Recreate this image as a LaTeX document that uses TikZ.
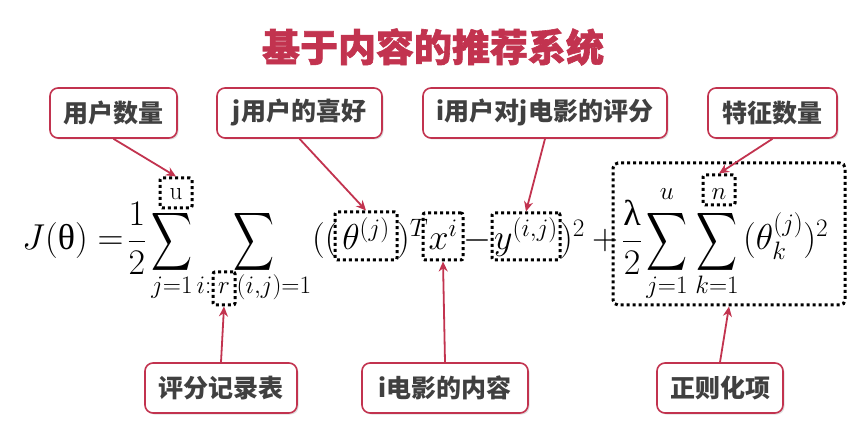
\documentclass[tikz,border=0pt]{standalone}
\usepackage{fix-cm}
\usepackage{fontspec}
\usepackage{amsmath}
\usepackage{graphicx}
\newfontfamily\cjk{Noto Sans CJK SC}
\newfontfamily\cjktitle[BoldFeatures={FakeBold=1.6}]{Noto Sans CJK SC}
\newfontfamily\greekup{Liberation Serif}
\usetikzlibrary{arrows.meta,shadows}
\definecolor{rosered}{HTML}{C2334F}
\definecolor{labelgray}{HTML}{404040}
\newcommand{\bigsum}{\resizebox*{41pt}{65pt}{$\displaystyle\sum$}}
\newcommand{\upth}{\text{\greekup θ}}
\newcommand{\uplam}{\text{\greekup λ}}
\tikzset{
  callout/.style={draw=rosered, line width=1.6pt, fill=white, rounded corners=8pt,
    minimum height=50pt, inner sep=0pt, text=labelgray,
    font=\cjk\bfseries\fontsize{25}{28}\selectfont,
    drop shadow={opacity=0.25, shadow xshift=1.5pt, shadow yshift=-1.5pt}},
  pointer/.style={draw=rosered, line width=1.8pt, -{Stealth[length=10pt,width=9pt]}},
  dotbox/.style={draw=black, line width=3pt, dash pattern=on 3pt off 3pt,
    rounded corners=2pt, inner sep=0pt},
  mathtext/.style={inner sep=0pt, font=\fontsize{36}{40}\selectfont},
  titletext/.style={font=\cjktitle\bfseries\fontsize{38}{44}\selectfont, text=rosered}
}
\begin{document}
\begin{tikzpicture}[x=1pt,y=-1pt]
\useasboundingbox (0,0) rectangle (867,443);
\fill[white] (0,0) rectangle (867,443);
\node[titletext] (title) at (433,47) {基于内容的推荐系统};

% formula
\node[mathtext, anchor=base west] (lhs) at (22,250) {$J(\upth) =$};
\node[mathtext, anchor=base] (half) at (137,250) {$\dfrac{1}{2}$};
\node[mathtext] (sumA) at (172,242) {\bigsum};
\node[mathtext, anchor=base] (subA) at (172,294) {$\scriptstyle j=1$};
\node[dotbox, mathtext, anchor=base, minimum width=32pt, text height=22pt, text depth=8pt] (ubox) at (176,200) {$\scriptstyle \mathrm{u}$};
\node[mathtext] (sumB) at (254,242) {\bigsum};
\node[dotbox, mathtext, anchor=base, minimum width=22pt, text height=22pt, text depth=11pt] (rbox) at (224,294) {$\scriptstyle r$};
\node[mathtext, anchor=base east] (subBl) at (rbox.base west) {$\scriptstyle i{:}$};
\node[mathtext, anchor=base west] (subBr) at (rbox.base east) {$\scriptstyle (i,j)=1$};
\node[mathtext, anchor=base west] (lpar) at (312,250) {$(($};
\node[dotbox, mathtext, anchor=base, minimum width=62pt, text height=38pt, text depth=10pt] (tbox) at (366,250) {$\theta^{(j)}$};
\node[mathtext, anchor=base west] (rparT) at (397,250) {$)^{T}$};
\node[dotbox, mathtext, anchor=base, minimum width=40pt, text height=37pt, text depth=10pt] (xbox) at (443,250) {$x^{i}$};
\node[mathtext, anchor=base west] (minus) at (463,250) {$-$};
\node[dotbox, mathtext, anchor=base, minimum width=68pt, text height=37pt, text depth=10pt] (ybox) at (526,250) {$y^{(i,j)}$};
\node[mathtext, anchor=base west] (rparsq) at (560,250) {$)^{2}$};
\node[mathtext, anchor=base west] (plus) at (592,250) {$+$};
\node[dotbox, minimum width=232pt, minimum height=142pt, rounded corners=5pt] (reg) at (729,234) {};
\node[mathtext, anchor=base] (lam) at (632,250) {$\dfrac{\uplam}{2}$};
\node[mathtext] (sumC) at (667,242) {\bigsum};
\node[mathtext, anchor=base] (supC) at (667,200) {$\scriptstyle u$};
\node[mathtext, anchor=base] (subC) at (667,294) {$\scriptstyle j=1$};
\node[mathtext] (sumD) at (717,242) {\bigsum};
\node[dotbox, mathtext, anchor=base, minimum width=32pt, text height=25pt, text depth=5pt] (nbox) at (719,200) {$\scriptstyle n$};
\node[mathtext, anchor=base] (subD) at (717,294) {$\scriptstyle k=1$};
\node[mathtext, anchor=base west] (thk) at (743,250) {$(\theta_k^{(j)})^2$};

% callouts
\node[callout, minimum width=127pt] (t1) at (113.5,113) {用户数量};
\node[callout, minimum width=165pt] (t2) at (299.5,113) {j用户的喜好};
\node[callout, minimum width=244pt] (t3) at (545,113) {i用户对j电影的评分};
\node[callout, minimum width=129pt] (t4) at (772.5,113) {特征数量};
\node[callout, minimum width=152pt] (b1) at (221,388) {评分记录表};
\node[callout, minimum width=166pt] (b2) at (445,388) {i电影的内容};
\node[callout, minimum width=126pt] (b3) at (720,388) {正则化项};

% pointers
\draw[pointer] (t1.south) -- (ubox.north);
\draw[pointer] (t2.south) -- (tbox.north);
\draw[pointer] (t3.south) -- (ybox.north);
\draw[pointer] (t4.south) -- (nbox.north);
\draw[pointer] (b1.north) -- (rbox.south);
\draw[pointer] (b2.north) -- (xbox.south);
\draw[pointer] (b3.north) -- (reg.south);
\end{tikzpicture}
\end{document}
